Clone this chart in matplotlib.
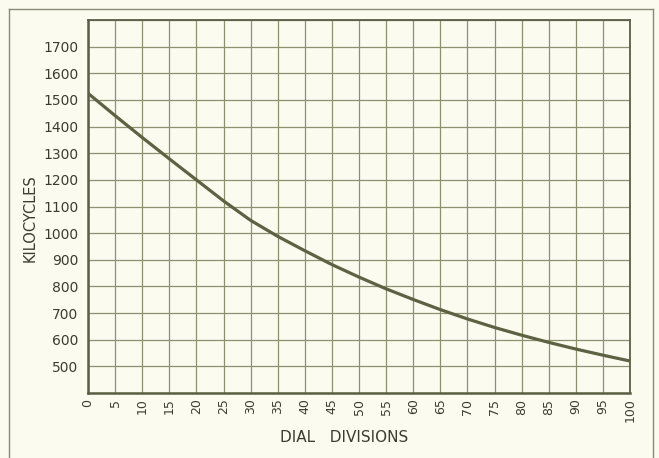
import matplotlib
matplotlib.use('Agg')
import matplotlib.pyplot as plt
from matplotlib.lines import Line2D

# dial divisions vs. frequency
dial = [0, 5, 10, 15, 20, 25, 30, 35, 40, 45, 50, 55, 60, 65, 70, 75, 80, 85, 90, 95, 100]
kilocycles = [1525, 1441, 1359, 1279, 1200, 1121, 1048, 988, 934, 882, 835,
              791, 751, 713, 678, 646, 617, 590, 565, 542, 520]

y_ticks = [500, 600, 700, 800, 900, 1000, 1100, 1200, 1300, 1400, 1500, 1600, 1700]
y_labels = ['500', '600', '700', '800', '900', '1000', '1100', '1200', '1300',
            '1400', '1500', '1600', '1700']
x_ticks = list(range(0, 101, 5))

PAPER = '#fbfbef'
GRID = '#8d9170'
INK = '#3c3c30'
CURVE = '#5c6242'

fig = plt.figure(figsize=(6.59, 4.58), dpi=100, facecolor=PAPER)
ax = fig.add_axes([88/659, 1 - 393/458, (630 - 88)/659, (393 - 20)/458])
ax.set_facecolor(PAPER)

ax.plot(dial, kilocycles, color=CURVE, lw=2.3, solid_capstyle='butt', zorder=3)

ax.set_xlim(0, 100)
ax.set_ylim(400, 1800)

# grid every 5 divisions / 100 kc
ax.set_xticks(x_ticks)
ax.set_xticklabels([str(t) for t in x_ticks], rotation=90, fontsize=9, color=INK)
ax.set_yticks(list(range(400, 1801, 100)), minor=True)
ax.set_yticks(y_ticks)
ax.set_yticklabels(y_labels, fontsize=10, color=INK)
ax.grid(True, which='both', color=GRID, lw=0.9)
ax.tick_params(which='both', length=0)
ax.tick_params(axis='y', pad=7)
ax.tick_params(axis='x', pad=4)

for side in ['left', 'bottom', 'top', 'right']:
    ax.spines[side].set_color('#5a5e44')
    ax.spines[side].set_linewidth(1.3)
ax.spines['left'].set_linewidth(1.8)
ax.spines['bottom'].set_linewidth(1.8)

fig.text(30/659, 1 - 218/458, 'KILOCYCLES', rotation=90, ha='center', va='center',
         fontsize=10.5, color=INK)
fig.text(344/659, 1 - 437/458, 'DIAL   DIVISIONS', ha='center', va='center',
         fontsize=11, color=INK)

# outer border of the page (open at the bottom)
for xs, ys in [([9, 9], [460, 9]), ([9, 653], [9, 9]), ([653, 653], [9, 460])]:
    fig.add_artist(Line2D([x/659 for x in xs], [1 - y/458 for y in ys],
                          color='#8a8a78', lw=1.0))

fig.savefig('out.png', dpi=100, facecolor=PAPER)
